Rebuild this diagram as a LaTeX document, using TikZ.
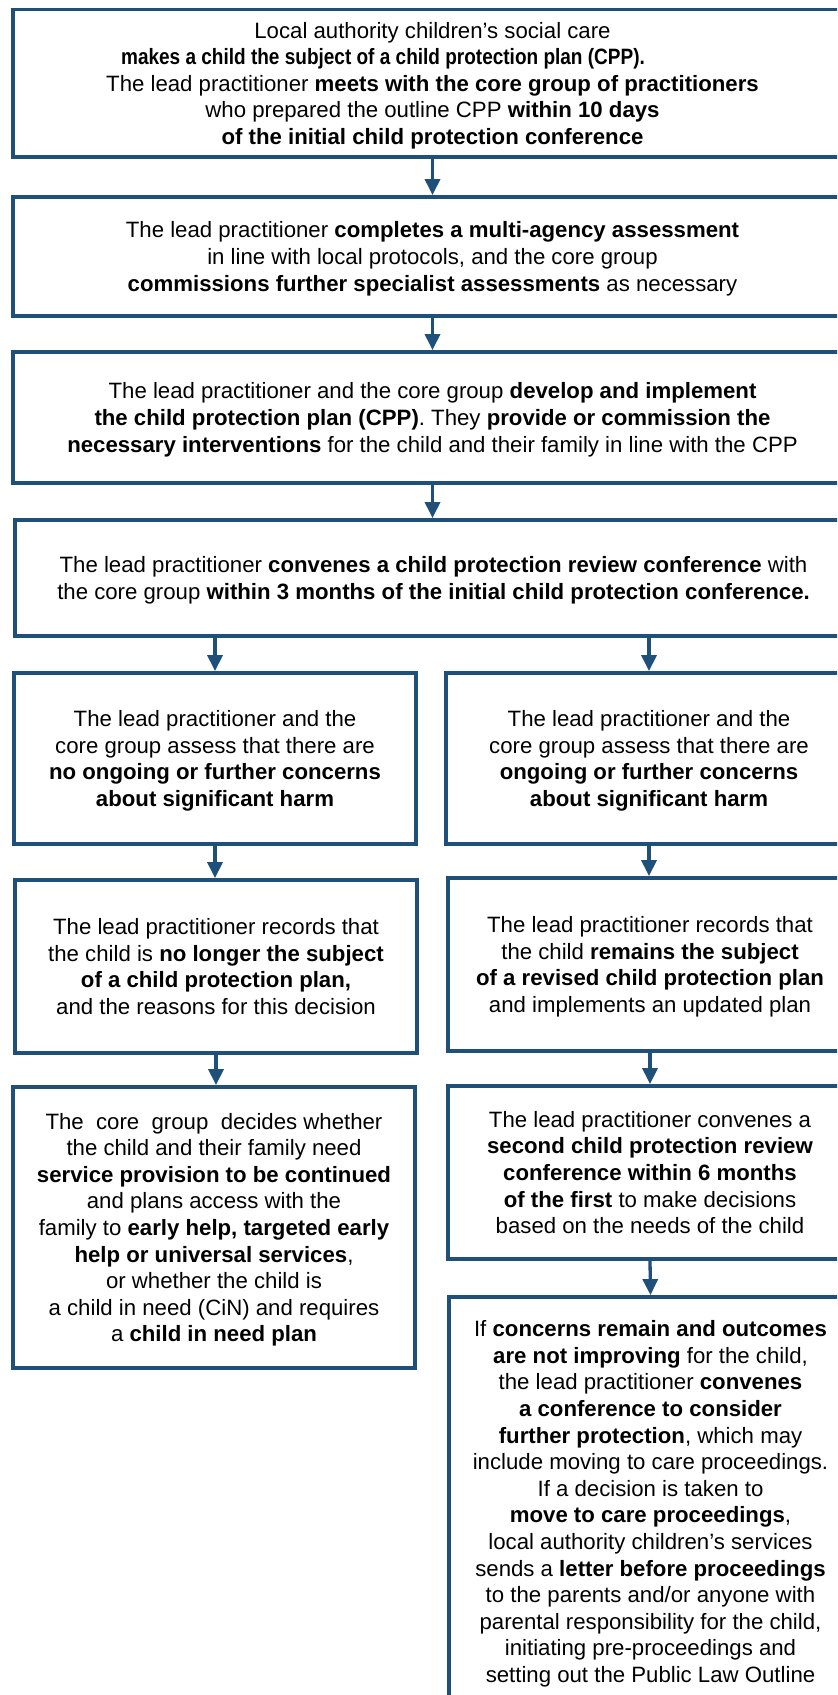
\documentclass[tikz,border=0pt]{standalone}
\usepackage{fontspec}
\usepackage{graphicx}
\setmainfont{Liberation Sans}
\usetikzlibrary{arrows.meta}
\definecolor{cppblue}{RGB}{31,80,122}

\begin{document}
\begin{tikzpicture}[x=0.5pt, y=-0.5pt,
            box/.style={rectangle, draw=cppblue, line width=1.9pt, align=center, inner sep=0pt,
                text depth=-0.5pt, font=\fontsize{11.1pt}{13.3pt}\selectfont},
            widebox/.style={box, minimum width=419.5pt},
            colbox/.style={box, minimum width=201pt},
            arrow/.style={draw=cppblue, line width=1.65pt, -{Triangle[length=8pt, width=7.5pt]}}
        ]

            % Picture frame (boxes run off the right and bottom edge)
            \useasboundingbox (0,0) rectangle (837,1695);
            \clip (0,0) rectangle (837,1695);

            % Plan made
            \node[widebox, minimum height=73.75pt] (plan) at (432.5,83.25) {
                Local authority children’s social care\\
                \scalebox{0.856}[1]{\textbf{makes a child the subject of a child protection plan (CPP).}}\rule{49.5pt}{0pt}\\
                The lead practitioner \textbf{meets with the core group of practitioners}\\
                who prepared the outline CPP \textbf{within 10 days}\\
                \textbf{of the initial child protection conference}
            };

            % Assessment
            \node[widebox, minimum height=59.5pt] (assess) at (432.5,256.5) {
                The lead practitioner \textbf{completes a multi-agency assessment}\\
                in line with local protocols, and the core group\\
                \textbf{commissions further specialist assessments} as necessary
            };

            % Implement the plan
            \node[widebox, minimum height=65.5pt] (implement) at (432.5,417.5) {
                The lead practitioner and the core group \textbf{develop and implement}\\
                \textbf{the child protection plan (CPP)}. They \textbf{provide or commission the}\\
                \textbf{necessary interventions} for the child and their family in line with the CPP
            };

            % Review conference
            \node[box, minimum width=418.5pt, minimum height=58pt] (review) at (433.5,578) {
                The lead practitioner \textbf{convenes a child protection review conference} with\\
                the core group \textbf{within 3 months of the initial child protection conference.}
            };

            % Left branch: no further concerns
            \node[colbox, minimum height=85.5pt] (noconcern) at (215,758.5) {
                The lead practitioner and the\\
                core group assess that there are\\
                \textbf{no ongoing or further concerns}\\
                \textbf{about significant harm}
            };

            \node[colbox, minimum height=86.5pt] (ended) at (216,966.5) {
                The lead practitioner records that\\
                the child is \textbf{no longer the subject}\\
                \textbf{of a child protection plan,}\\
                and the reasons for this decision
            };

            \node[colbox, minimum height=140.5pt] (services) at (214,1227.5) {
                The~ core~ group~ decides whether\\
                the child and their family need\\
                \textbf{service provision to be continued}\\
                and plans access with the\\
                family to \textbf{early help, targeted early}\\
                \textbf{help or universal services},\\
                or whether the child is\\
                a child in need (CiN) and requires\\
                a \textbf{child in need plan}
            };

            % Right branch: ongoing concerns
            \node[colbox, minimum width=203pt, minimum height=85.5pt] (concern) at (649,758.5) {
                The lead practitioner and the\\
                core group assess that there are\\
                \textbf{ongoing or further concerns}\\
                \textbf{about significant harm}
            };

            \node[colbox, minimum width=202pt, minimum height=86.5pt] (revised) at (650,964.5) {
                The lead practitioner records that\\
                the child \textbf{remains the subject}\\
                \textbf{of a revised child protection plan}\\
                and implements an updated plan
            };

            \node[colbox, minimum width=202pt, minimum height=86.5pt] (second) at (650,1172.5) {
                The lead practitioner convenes a\\
                \textbf{second child protection review}\\
                \textbf{conference within 6 months}\\
                \textbf{of the first} to make decisions\\
                based on the needs of the child
            };

            \node[colbox, minimum width=201.5pt, minimum height=204.5pt] (proceed) at (650.5,1501.5) {
                If \textbf{concerns remain and outcomes}\\
                \textbf{are not improving} for the child,\\
                the lead practitioner \textbf{convenes}\\
                \textbf{a conference to consider}\\
                \textbf{further protection}, which may\\
                include moving to care proceedings.\\
                If a decision is taken to\\
                \textbf{move to care proceedings},\\
                local authority children’s services\\
                sends a \textbf{letter before proceedings}\\
                to the parents and/or anyone with\\
                parental responsibility for the child,\\
                initiating pre-proceedings and\\
                setting out the Public Law Outline
            };

            % Arrows
            \draw[arrow] (plan.south) -- (assess.north);
            \draw[arrow] (assess.south) -- (implement.north);
            \draw[arrow] (implement.south) -- (implement.south |- review.north);
            \draw[arrow] (review.south -| noconcern.north) -- (noconcern.north);
            \draw[arrow] (review.south -| concern.north) -- (concern.north);
            \draw[arrow] (noconcern.south) -- (noconcern.south |- ended.north);
            \draw[arrow] (concern.south) -- (concern.south |- revised.north);
            \draw[arrow] (ended.south) -- (ended.south |- services.north);
            \draw[arrow] (revised.south) -- (second.north);
            \draw[arrow] (second.south) -- (proceed.north);

        \end{tikzpicture}
\end{document}
